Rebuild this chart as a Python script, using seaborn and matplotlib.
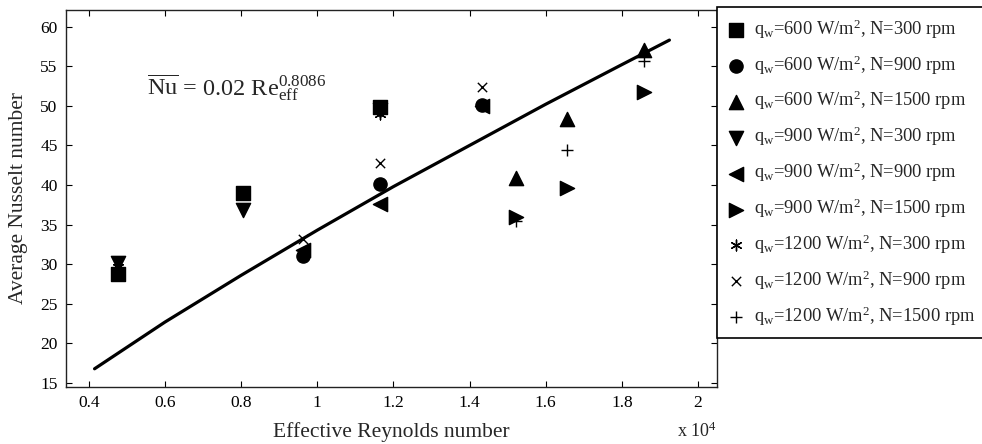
import numpy as np
import pandas as pd
import matplotlib
matplotlib.use('Agg')
import matplotlib.pyplot as plt
import seaborn as sns

# ==========================================
# data (Re in units of 1e4)
# ==========================================
series_labels = [
    r'q$_\mathrm{w}$=600 W/m$^2$, N=300 rpm',
    r'q$_\mathrm{w}$=600 W/m$^2$, N=900 rpm',
    r'q$_\mathrm{w}$=600 W/m$^2$, N=1500 rpm',
    r'q$_\mathrm{w}$=900 W/m$^2$, N=300 rpm',
    r'q$_\mathrm{w}$=900 W/m$^2$, N=900 rpm',
    r'q$_\mathrm{w}$=900 W/m$^2$, N=1500 rpm',
    r'q$_\mathrm{w}$=1200 W/m$^2$, N=300 rpm',
    r'q$_\mathrm{w}$=1200 W/m$^2$, N=900 rpm',
    r'q$_\mathrm{w}$=1200 W/m$^2$, N=1500 rpm',
]

re_300 = [0.476, 0.805, 1.164]
re_900 = [0.962, 1.164, 1.433]
re_1500 = [1.521, 1.657, 1.859]

nu_q600_n300 = [28.8, 39.0, 49.8]
nu_q600_n900 = [31.0, 40.1, 50.1]
nu_q600_n1500 = [40.9, 48.3, 57.0]
nu_q900_n300 = [30.2, 36.9, 49.5]
nu_q900_n900 = [31.8, 37.6, 50.0]
nu_q900_n1500 = [36.0, 39.6, 51.7]
nu_q1200_n300 = [29.6, 38.9, 49.0]
nu_q1200_n900 = [33.2, 42.8, 52.4]
nu_q1200_n1500 = [35.5, 44.4, 55.7]

# correlation line
fit_re = [0.415, 0.6, 0.8, 1.0, 1.2, 1.4, 1.6, 1.8, 1.925]
fit_nu = [16.8, 22.7, 28.6, 34.3, 39.8, 45.0, 50.2, 55.2, 58.3]

x_ticks = [0.4, 0.6, 0.8, 1.0, 1.2, 1.4, 1.6, 1.8, 2.0]
x_tick_labels = ['0.4', '0.6', '0.8', '1', '1.2', '1.4', '1.6', '1.8', '2']
y_ticks = [15, 20, 25, 30, 35, 40, 45, 50, 55, 60]

series = [
    (re_300, nu_q600_n300, 's', 90),
    (re_900, nu_q600_n900, 'o', 90),
    (re_1500, nu_q600_n1500, '^', 105),
    (re_300, nu_q900_n300, 'v', 105),
    (re_900, nu_q900_n900, '<', 105),
    (re_1500, nu_q900_n1500, '>', 105),
    (re_300, nu_q1200_n300, (6, 2, 0), 60),
    (re_900, nu_q1200_n900, 'x', 45),
    (re_1500, nu_q1200_n1500, '+', 75),
]

# ==========================================
# style
# ==========================================
sns.set_style('ticks')
plt.rcParams['font.family'] = ['Liberation Serif', 'DejaVu Serif']
plt.rcParams['mathtext.fontset'] = 'custom'
plt.rcParams['mathtext.rm'] = 'Liberation Serif'
plt.rcParams['mathtext.it'] = 'Liberation Serif:italic'
plt.rcParams['mathtext.bf'] = 'Liberation Serif:bold'

fig = plt.figure(figsize=(9.82, 4.44), dpi=100)
ax = fig.add_axes([66 / 982, 1 - 387 / 444, (717 - 66) / 982, (387 - 10) / 444])

sns.lineplot(x=fit_re, y=fit_nu, color='black', linewidth=2.3, ax=ax, legend=False)

for (xs, ys, m, s), lbl in zip(series, series_labels):
    sns.scatterplot(x=xs, y=ys, marker=m, s=s, color='black', edgecolor='black',
                    linewidth=1.0, label=lbl, ax=ax)

ax.set_xlim(0.34, 2.05)
ax.set_ylim(14.5, 62.1)
ax.set_xticks(x_ticks)
ax.set_xticklabels(x_tick_labels)
ax.set_yticks(y_ticks)
ax.tick_params(direction='in', top=True, right=True, length=4, width=0.8,
               labelsize=12.5, colors='black', pad=6)
for sp in ax.spines.values():
    sp.set_visible(True)
    sp.set_linewidth(1.0)
    sp.set_color('#222222')

ax.set_xlabel('Effective Reynolds number', fontsize=15.5, labelpad=8)
ax.set_ylabel('Average Nusselt number', fontsize=15.5, labelpad=8.5)

ax.text((147 - 66) / 651, (387 - 88) / 377,
        r'$\overline{\mathrm{Nu}}$ = 0.02 Re$_{\mathrm{eff}}^{0.8086}$',
        transform=ax.transAxes, fontsize=17.5, va='center', ha='left')

fig.text(717 / 982, 1 - 431 / 444, r'x 10$^4$', fontsize=13, ha='right', va='center')

leg = ax.legend(loc='upper left', bbox_to_anchor=(717 / 982, 1 - 7 / 444),
                bbox_transform=fig.transFigure, borderaxespad=0, fontsize=13.3,
                frameon=True, fancybox=False, edgecolor='black', framealpha=1,
                labelspacing=0.68, handletextpad=0.45, handlelength=1.0, borderpad=0.55)
leg.get_frame().set_linewidth(1.2)

fig.savefig('out.png', dpi=100)
